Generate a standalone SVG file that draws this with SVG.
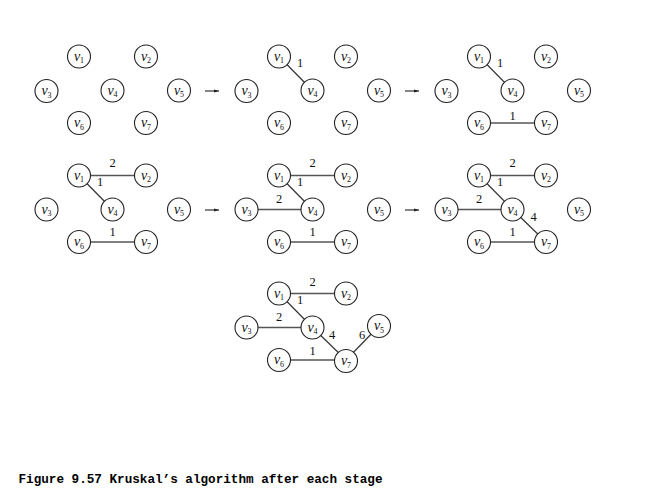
<svg xmlns="http://www.w3.org/2000/svg" width="658" height="501" viewBox="0 0 658 501">
<style>
.e{stroke:#333;stroke-width:1.2;fill:none}
.h{stroke:#555;stroke-width:1.6;fill:none}
.n circle{fill:#fff;stroke:#222;stroke-width:1.1}
.n text{font-family:"Liberation Serif",serif;font-style:italic;font-size:14px;fill:#111;text-anchor:middle}
.n tspan.s{font-style:normal;font-size:8px}
.w{font-family:"Liberation Serif",serif;font-size:12.5px;fill:#111;text-anchor:middle}
.a{stroke:#222;stroke-width:1.1;fill:none}
.cap{font-family:"Liberation Mono",monospace;font-weight:bold;font-size:12.7px;fill:#000}
</style>
<defs>
<marker id="ah" markerWidth="6" markerHeight="6" refX="5" refY="3" orient="auto" markerUnits="userSpaceOnUse">
<path d="M0,1.5 L5,3 L0,4.5 z" fill="#222"/>
</marker>
</defs>

<g id="connectors">
<g transform="translate(200,0)">
<line class="e" x1="79" y1="56.5" x2="112.5" y2="90.5"/>
</g>
<g transform="translate(400,0)">
<line class="e" x1="79" y1="56.5" x2="112.5" y2="90.5"/>
<line class="h" x1="79" y1="123" x2="146" y2="123"/>
</g>
<g transform="translate(0,119)">
<line class="e" x1="79" y1="56.5" x2="112.5" y2="90.5"/>
<line class="h" x1="79" y1="123" x2="146" y2="123"/>
<line class="h" x1="79" y1="56.5" x2="146" y2="56.5"/>
</g>
<g transform="translate(200,119)">
<line class="e" x1="79" y1="56.5" x2="112.5" y2="90.5"/>
<line class="h" x1="79" y1="123" x2="146" y2="123"/>
<line class="h" x1="79" y1="56.5" x2="146" y2="56.5"/>
<line class="h" x1="46.5" y1="90.5" x2="112.5" y2="90.5"/>
</g>
<g transform="translate(400,119)">
<line class="e" x1="79" y1="56.5" x2="112.5" y2="90.5"/>
<line class="h" x1="79" y1="123" x2="146" y2="123"/>
<line class="h" x1="79" y1="56.5" x2="146" y2="56.5"/>
<line class="h" x1="46.5" y1="90.5" x2="112.5" y2="90.5"/>
<line class="e" x1="112.5" y1="90.5" x2="146" y2="123"/>
</g>
<g transform="translate(200,237)">
<line class="e" x1="79" y1="56.5" x2="112.5" y2="90.5"/>
<line class="h" x1="79" y1="123" x2="146" y2="123"/>
<line class="h" x1="79" y1="56.5" x2="146" y2="56.5"/>
<line class="h" x1="46.5" y1="90.5" x2="112.5" y2="90.5"/>
<line class="e" x1="112.5" y1="90.5" x2="146" y2="123"/>
<line class="e" x1="146" y1="123" x2="179" y2="89"/>
</g>
<line class="a" x1="205" y1="91" x2="219" y2="91" marker-end="url(#ah)"/>
<line class="a" x1="405" y1="91" x2="419" y2="91" marker-end="url(#ah)"/>
<line class="a" x1="205" y1="210" x2="219" y2="210" marker-end="url(#ah)"/>
<line class="a" x1="405" y1="210" x2="419" y2="210" marker-end="url(#ah)"/>
</g>

<g id="weights">
<text class="w" x="300" y="67">1</text>
<text class="w" x="500" y="67">1</text>
<text class="w" x="512.5" y="120">1</text>
<text class="w" x="112.5" y="167">2</text>
<text class="w" x="100" y="185.5">1</text>
<text class="w" x="112.5" y="236">1</text>
<text class="w" x="312.5" y="167">2</text>
<text class="w" x="300" y="185.5">1</text>
<text class="w" x="279" y="203">2</text>
<text class="w" x="312.5" y="236">1</text>
<text class="w" x="512.5" y="167">2</text>
<text class="w" x="500" y="185.5">1</text>
<text class="w" x="479" y="203">2</text>
<text class="w" x="533.5" y="221">4</text>
<text class="w" x="512.5" y="236">1</text>
<text class="w" x="312.5" y="286">2</text>
<text class="w" x="300" y="303.5">1</text>
<text class="w" x="279" y="321">2</text>
<text class="w" x="332" y="338.5">4</text>
<text class="w" x="362" y="338.5">6</text>
<text class="w" x="312.5" y="354.5">1</text>
</g>

<g id="stage1">
<g id="s1v1" class="n"><circle cx="79" cy="56.5" r="11.5"/><text x="79" y="60.5">v<tspan class="s" dy="2.5">1</tspan></text></g>
<g id="s1v2" class="n"><circle cx="146" cy="56.5" r="11.5"/><text x="146" y="60.5">v<tspan class="s" dy="2.5">2</tspan></text></g>
<g id="s1v3" class="n"><circle cx="46.5" cy="91" r="11.5"/><text x="46.5" y="95">v<tspan class="s" dy="2.5">3</tspan></text></g>
<g id="s1v4" class="n"><circle cx="112.5" cy="90.5" r="11.5"/><text x="112.5" y="94.5">v<tspan class="s" dy="2.5">4</tspan></text></g>
<g id="s1v5" class="n"><circle cx="179" cy="90.5" r="11.5"/><text x="179" y="94.5">v<tspan class="s" dy="2.5">5</tspan></text></g>
<g id="s1v6" class="n"><circle cx="79" cy="123" r="11.5"/><text x="79" y="127">v<tspan class="s" dy="2.5">6</tspan></text></g>
<g id="s1v7" class="n"><circle cx="146" cy="123" r="11.5"/><text x="146" y="127">v<tspan class="s" dy="2.5">7</tspan></text></g>
</g>

<g id="stage2" transform="translate(200,0)">
<g id="s2v1" class="n"><circle cx="79" cy="56.5" r="11.5"/><text x="79" y="60.5">v<tspan class="s" dy="2.5">1</tspan></text></g>
<g id="s2v2" class="n"><circle cx="146" cy="56.5" r="11.5"/><text x="146" y="60.5">v<tspan class="s" dy="2.5">2</tspan></text></g>
<g id="s2v3" class="n"><circle cx="46.5" cy="91" r="11.5"/><text x="46.5" y="95">v<tspan class="s" dy="2.5">3</tspan></text></g>
<g id="s2v4" class="n"><circle cx="112.5" cy="90.5" r="11.5"/><text x="112.5" y="94.5">v<tspan class="s" dy="2.5">4</tspan></text></g>
<g id="s2v5" class="n"><circle cx="179" cy="90.5" r="11.5"/><text x="179" y="94.5">v<tspan class="s" dy="2.5">5</tspan></text></g>
<g id="s2v6" class="n"><circle cx="79" cy="123" r="11.5"/><text x="79" y="127">v<tspan class="s" dy="2.5">6</tspan></text></g>
<g id="s2v7" class="n"><circle cx="146" cy="123" r="11.5"/><text x="146" y="127">v<tspan class="s" dy="2.5">7</tspan></text></g>
</g>

<g id="stage3" transform="translate(400,0)">
<g id="s3v1" class="n"><circle cx="79" cy="56.5" r="11.5"/><text x="79" y="60.5">v<tspan class="s" dy="2.5">1</tspan></text></g>
<g id="s3v2" class="n"><circle cx="146" cy="56.5" r="11.5"/><text x="146" y="60.5">v<tspan class="s" dy="2.5">2</tspan></text></g>
<g id="s3v3" class="n"><circle cx="46.5" cy="91" r="11.5"/><text x="46.5" y="95">v<tspan class="s" dy="2.5">3</tspan></text></g>
<g id="s3v4" class="n"><circle cx="112.5" cy="90.5" r="11.5"/><text x="112.5" y="94.5">v<tspan class="s" dy="2.5">4</tspan></text></g>
<g id="s3v5" class="n"><circle cx="179" cy="90.5" r="11.5"/><text x="179" y="94.5">v<tspan class="s" dy="2.5">5</tspan></text></g>
<g id="s3v6" class="n"><circle cx="79" cy="123" r="11.5"/><text x="79" y="127">v<tspan class="s" dy="2.5">6</tspan></text></g>
<g id="s3v7" class="n"><circle cx="146" cy="123" r="11.5"/><text x="146" y="127">v<tspan class="s" dy="2.5">7</tspan></text></g>
</g>

<g id="stage4" transform="translate(0,119)">
<g id="s4v1" class="n"><circle cx="79" cy="56.5" r="11.5"/><text x="79" y="60.5">v<tspan class="s" dy="2.5">1</tspan></text></g>
<g id="s4v2" class="n"><circle cx="146" cy="56.5" r="11.5"/><text x="146" y="60.5">v<tspan class="s" dy="2.5">2</tspan></text></g>
<g id="s4v3" class="n"><circle cx="46.5" cy="90.5" r="11.5"/><text x="46.5" y="94.5">v<tspan class="s" dy="2.5">3</tspan></text></g>
<g id="s4v4" class="n"><circle cx="112.5" cy="90.5" r="11.5"/><text x="112.5" y="94.5">v<tspan class="s" dy="2.5">4</tspan></text></g>
<g id="s4v5" class="n"><circle cx="179" cy="90.5" r="11.5"/><text x="179" y="94.5">v<tspan class="s" dy="2.5">5</tspan></text></g>
<g id="s4v6" class="n"><circle cx="79" cy="123" r="11.5"/><text x="79" y="127">v<tspan class="s" dy="2.5">6</tspan></text></g>
<g id="s4v7" class="n"><circle cx="146" cy="123" r="11.5"/><text x="146" y="127">v<tspan class="s" dy="2.5">7</tspan></text></g>
</g>

<g id="stage5" transform="translate(200,119)">
<g id="s5v1" class="n"><circle cx="79" cy="56.5" r="11.5"/><text x="79" y="60.5">v<tspan class="s" dy="2.5">1</tspan></text></g>
<g id="s5v2" class="n"><circle cx="146" cy="56.5" r="11.5"/><text x="146" y="60.5">v<tspan class="s" dy="2.5">2</tspan></text></g>
<g id="s5v3" class="n"><circle cx="46.5" cy="90.5" r="11.5"/><text x="46.5" y="94.5">v<tspan class="s" dy="2.5">3</tspan></text></g>
<g id="s5v4" class="n"><circle cx="112.5" cy="90.5" r="11.5"/><text x="112.5" y="94.5">v<tspan class="s" dy="2.5">4</tspan></text></g>
<g id="s5v5" class="n"><circle cx="179" cy="90.5" r="11.5"/><text x="179" y="94.5">v<tspan class="s" dy="2.5">5</tspan></text></g>
<g id="s5v6" class="n"><circle cx="79" cy="123" r="11.5"/><text x="79" y="127">v<tspan class="s" dy="2.5">6</tspan></text></g>
<g id="s5v7" class="n"><circle cx="146" cy="123" r="11.5"/><text x="146" y="127">v<tspan class="s" dy="2.5">7</tspan></text></g>
</g>

<g id="stage6" transform="translate(400,119)">
<g id="s6v1" class="n"><circle cx="79" cy="56.5" r="11.5"/><text x="79" y="60.5">v<tspan class="s" dy="2.5">1</tspan></text></g>
<g id="s6v2" class="n"><circle cx="146" cy="56.5" r="11.5"/><text x="146" y="60.5">v<tspan class="s" dy="2.5">2</tspan></text></g>
<g id="s6v3" class="n"><circle cx="46.5" cy="90.5" r="11.5"/><text x="46.5" y="94.5">v<tspan class="s" dy="2.5">3</tspan></text></g>
<g id="s6v4" class="n"><circle cx="112.5" cy="90.5" r="11.5"/><text x="112.5" y="94.5">v<tspan class="s" dy="2.5">4</tspan></text></g>
<g id="s6v5" class="n"><circle cx="179" cy="90.5" r="11.5"/><text x="179" y="94.5">v<tspan class="s" dy="2.5">5</tspan></text></g>
<g id="s6v6" class="n"><circle cx="79" cy="123" r="11.5"/><text x="79" y="127">v<tspan class="s" dy="2.5">6</tspan></text></g>
<g id="s6v7" class="n"><circle cx="146" cy="123" r="11.5"/><text x="146" y="127">v<tspan class="s" dy="2.5">7</tspan></text></g>
</g>

<g id="stage7" transform="translate(200,237)">
<g id="s7v1" class="n"><circle cx="79" cy="56.5" r="11.5"/><text x="79" y="60.5">v<tspan class="s" dy="2.5">1</tspan></text></g>
<g id="s7v2" class="n"><circle cx="146" cy="56.5" r="11.5"/><text x="146" y="60.5">v<tspan class="s" dy="2.5">2</tspan></text></g>
<g id="s7v3" class="n"><circle cx="46.5" cy="90.5" r="11.5"/><text x="46.5" y="94.5">v<tspan class="s" dy="2.5">3</tspan></text></g>
<g id="s7v4" class="n"><circle cx="112.5" cy="90.5" r="11.5"/><text x="112.5" y="94.5">v<tspan class="s" dy="2.5">4</tspan></text></g>
<g id="s7v5" class="n"><circle cx="179" cy="89" r="11.5"/><text x="179" y="93">v<tspan class="s" dy="2.5">5</tspan></text></g>
<g id="s7v6" class="n"><circle cx="79" cy="123" r="11.5"/><text x="79" y="127">v<tspan class="s" dy="2.5">6</tspan></text></g>
<g id="s7v7" class="n"><circle cx="146" cy="124" r="11.5"/><text x="146" y="128">v<tspan class="s" dy="2.5">7</tspan></text></g>
</g>

<text class="cap" x="18.5" y="483" textLength="364" lengthAdjust="spacingAndGlyphs">Figure 9.57 Kruskal’s algorithm after each stage</text>
</svg>
